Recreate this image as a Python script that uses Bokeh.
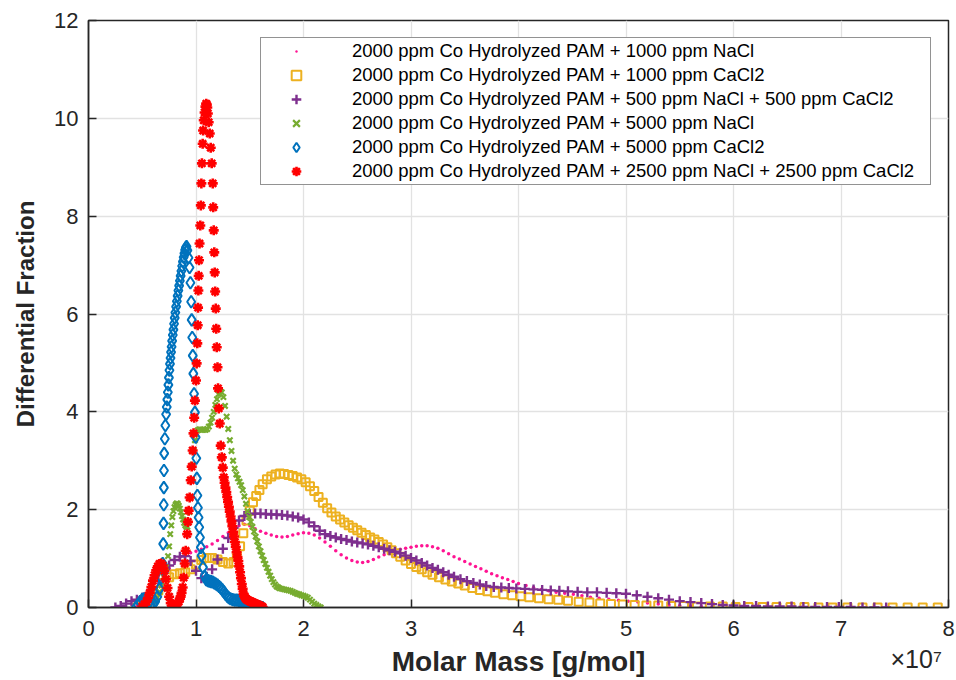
from bokeh.plotting import figure
from bokeh.models import Range1d, Legend, LegendItem, FixedTicker, LinearAxis
from bokeh.embed import file_html
from bokeh.resources import INLINE

# ---------------- data (molar mass in units of 1e7 g/mol) ----------------
x_ticks = [0, 1, 2, 3, 4, 5, 6, 7, 8]
y_ticks = [0, 2, 4, 6, 8, 10, 12]
x_scale_text = "\u00d710\u2077"

labels = [
    "2000 ppm Co Hydrolyzed PAM + 1000 ppm NaCl",
    "2000 ppm Co Hydrolyzed PAM + 1000 ppm CaCl2",
    "2000 ppm Co Hydrolyzed PAM + 500 ppm NaCl + 500 ppm CaCl2",
    "2000 ppm Co Hydrolyzed PAM + 5000 ppm NaCl",
    "2000 ppm Co Hydrolyzed PAM + 5000 ppm CaCl2",
    "2000 ppm Co Hydrolyzed PAM + 2500 ppm NaCl + 2500 ppm CaCl2",
]

nacl1000_x = [
    0.45, 0.50, 0.55, 0.60, 0.65, 0.70, 0.75, 0.80, 0.85, 0.90,
    0.95, 1.00, 1.05, 1.10, 1.15, 1.20, 1.25, 1.30, 1.35, 1.40,
    1.45, 1.50, 1.55, 1.60, 1.65, 1.70, 1.75, 1.80, 1.85, 1.90,
    1.95, 2.00, 2.05, 2.10, 2.15, 2.20, 2.25, 2.30, 2.35, 2.40,
    2.45, 2.50, 2.55, 2.60, 2.65, 2.70, 2.75, 2.80, 2.85, 2.90,
    2.95, 3.00, 3.05, 3.10, 3.15, 3.20, 3.25, 3.30, 3.35, 3.40,
    3.45, 3.50, 3.55, 3.60, 3.65, 3.70, 3.75, 3.80, 3.85, 3.90,
    3.95, 4.00, 4.07, 4.14, 4.21, 4.28, 4.35, 4.43, 4.51, 4.59,
    4.67, 4.75, 4.84, 4.93, 5.02, 5.11, 5.20, 5.30, 5.40, 5.50,
    5.60, 5.70, 5.80]
nacl1000_y = [
    0.02, 0.08, 0.18, 0.30, 0.45, 0.62, 0.80, 0.93, 1.02, 1.08,
    1.12, 1.15, 1.19, 1.24, 1.30, 1.37, 1.45, 1.53, 1.61, 1.67,
    1.70, 1.67, 1.61, 1.56, 1.52, 1.48, 1.45, 1.44, 1.45, 1.48,
    1.51, 1.53, 1.52, 1.48, 1.42, 1.34, 1.25, 1.16, 1.08, 1.01,
    0.96, 0.93, 0.92, 0.94, 0.98, 1.03, 1.08, 1.12, 1.16, 1.19,
    1.21, 1.23, 1.25, 1.26, 1.26, 1.24, 1.21, 1.16, 1.10, 1.04,
    0.99, 0.94, 0.89, 0.84, 0.79, 0.74, 0.69, 0.65, 0.61, 0.57,
    0.53, 0.49, 0.45, 0.41, 0.37, 0.34, 0.31, 0.29, 0.27, 0.24,
    0.21, 0.19, 0.17, 0.15, 0.13, 0.11, 0.09, 0.07, 0.05, 0.04,
    0.03, 0.02, 0.01]

cacl1000_x = [
    0.45, 0.50, 0.55, 0.60, 0.65, 0.70, 0.75, 0.80, 0.85, 0.90,
    0.95, 1.00, 1.05, 1.10, 1.15, 1.20, 1.25, 1.30, 1.35, 1.38,
    1.41, 1.44, 1.47, 1.50, 1.53, 1.56, 1.59, 1.62, 1.66, 1.70,
    1.74, 1.78, 1.82, 1.86, 1.90, 1.94, 1.98, 2.02, 2.06, 2.10,
    2.14, 2.18, 2.22, 2.26, 2.30, 2.34, 2.38, 2.42, 2.46, 2.50,
    2.54, 2.58, 2.62, 2.66, 2.70, 2.74, 2.78, 2.82, 2.86, 2.90,
    2.95, 3.00, 3.05, 3.10, 3.15, 3.20, 3.26, 3.32, 3.38, 3.44,
    3.50, 3.57, 3.64, 3.71, 3.78, 3.86, 3.94, 4.02, 4.10, 4.19,
    4.28, 4.37, 4.46, 4.56, 4.66, 4.76, 4.86, 4.97, 5.08, 5.19,
    5.30, 5.42, 5.54, 5.66, 5.78, 5.90, 6.02, 6.14, 6.27, 6.40,
    6.53, 6.66, 6.79, 6.92, 7.06, 7.20, 7.34, 7.48, 7.62, 7.76,
    7.90]
cacl1000_y = [
    0.00, 0.05, 0.12, 0.22, 0.35, 0.50, 0.62, 0.68, 0.70, 0.72,
    0.78, 0.88, 0.97, 1.01, 1.01, 0.98, 0.93, 0.90, 0.93, 1.05,
    1.25, 1.52, 1.78, 1.98, 2.15, 2.28, 2.40, 2.52, 2.62, 2.68,
    2.72, 2.74, 2.73, 2.71, 2.69, 2.66, 2.62, 2.56, 2.48, 2.38,
    2.26, 2.14, 2.03, 1.94, 1.86, 1.80, 1.74, 1.68, 1.63, 1.58,
    1.53, 1.48, 1.43, 1.39, 1.34, 1.29, 1.23, 1.17, 1.11, 1.04,
    0.96, 0.89, 0.83, 0.78, 0.72, 0.67, 0.62, 0.57, 0.53, 0.49,
    0.45, 0.40, 0.36, 0.33, 0.30, 0.27, 0.25, 0.23, 0.21, 0.19,
    0.17, 0.16, 0.14, 0.12, 0.10, 0.08, 0.07, 0.06, 0.05, 0.04,
    0.04, 0.03, 0.03, 0.02, 0.02, 0.02, 0.01, 0.01, 0.01, 0.01,
    0.01, 0.01, 0.00, 0.00, 0.00, 0.00, 0.00, 0.00, 0.00, 0.00,
    0.00]

mix500_x = [
    0.25, 0.30, 0.35, 0.40, 0.45, 0.50, 0.55, 0.60, 0.65, 0.70,
    0.75, 0.80, 0.85, 0.90, 0.95, 1.00, 1.05, 1.10, 1.15, 1.20,
    1.25, 1.30, 1.35, 1.40, 1.45, 1.50, 1.55, 1.60, 1.65, 1.70,
    1.75, 1.80, 1.85, 1.90, 1.95, 2.00, 2.05, 2.10, 2.15, 2.20,
    2.25, 2.30, 2.35, 2.40, 2.45, 2.50, 2.55, 2.60, 2.65, 2.70,
    2.75, 2.80, 2.85, 2.90, 2.95, 3.00, 3.05, 3.10, 3.15, 3.20,
    3.25, 3.30, 3.35, 3.40, 3.46, 3.52, 3.58, 3.64, 3.70, 3.77,
    3.84, 3.91, 3.98, 4.06, 4.14, 4.22, 4.30, 4.38, 4.46, 4.55,
    4.64, 4.73, 4.82, 4.91, 5.00, 5.10, 5.20, 5.30, 5.40, 5.50,
    5.60, 5.70, 5.80, 5.90, 6.00, 6.10, 6.21, 6.32, 6.43, 6.54,
    6.65, 6.76, 6.87, 6.98, 7.09, 7.20, 7.31, 7.42]
mix500_y = [
    0.00, 0.03, 0.08, 0.13, 0.16, 0.20, 0.28, 0.40, 0.55, 0.72,
    0.86, 0.97, 1.04, 1.05, 0.95, 0.75, 0.60, 0.63, 0.78, 0.98,
    1.20, 1.42, 1.63, 1.78, 1.87, 1.91, 1.92, 1.92, 1.91, 1.90,
    1.90, 1.89, 1.88, 1.86, 1.84, 1.80, 1.74, 1.66, 1.57, 1.50,
    1.46, 1.43, 1.40, 1.38, 1.35, 1.33, 1.31, 1.29, 1.26, 1.23,
    1.20, 1.17, 1.14, 1.11, 1.06, 1.01, 0.96, 0.91, 0.86, 0.81,
    0.77, 0.72, 0.67, 0.63, 0.58, 0.54, 0.50, 0.47, 0.44, 0.42,
    0.41, 0.40, 0.39, 0.38, 0.37, 0.36, 0.35, 0.34, 0.33, 0.32,
    0.31, 0.31, 0.30, 0.29, 0.28, 0.25, 0.22, 0.19, 0.16, 0.13,
    0.11, 0.09, 0.07, 0.05, 0.04, 0.03, 0.03, 0.02, 0.02, 0.02,
    0.01, 0.01, 0.01, 0.01, 0.01, 0.00, 0.00, 0.00]

nacl5000_x = [
    0.62, 0.64, 0.66, 0.68, 0.70, 0.72, 0.74, 0.75, 0.76, 0.77,
    0.78, 0.79, 0.80, 0.81, 0.82, 0.83, 0.84, 0.85, 0.86, 0.87,
    0.88, 0.89, 0.90, 0.91, 0.92, 0.93, 0.94, 0.95, 0.96, 0.97,
    0.98, 0.99, 1.00, 1.015, 1.03, 1.045, 1.06, 1.075, 1.09, 1.105,
    1.12, 1.135, 1.15, 1.165, 1.18, 1.195, 1.21, 1.225, 1.24, 1.255,
    1.27, 1.285, 1.30, 1.315, 1.33, 1.345, 1.36, 1.375, 1.39, 1.405,
    1.42, 1.435, 1.45, 1.465, 1.48, 1.495, 1.51, 1.525, 1.54, 1.555,
    1.57, 1.585, 1.60, 1.615, 1.63, 1.645, 1.66, 1.675, 1.69, 1.705,
    1.72, 1.735, 1.75, 1.765, 1.78, 1.80, 1.82, 1.84, 1.86, 1.88,
    1.90, 1.92, 1.94, 1.96, 1.98, 2.00, 2.02, 2.04, 2.06, 2.08,
    2.10, 2.12, 2.14, 2.16]
nacl5000_y = [
    0.10, 0.20, 0.32, 0.45, 0.62, 0.82, 1.05, 1.25, 1.50, 1.68,
    1.85, 1.97, 2.05, 2.10, 2.13, 2.12, 2.08, 2.02, 1.95, 1.87,
    1.80, 1.73, 1.68, 1.65, 1.65, 1.75, 1.95, 2.25, 2.60, 2.92,
    3.20, 3.42, 3.55, 3.62, 3.64, 3.64, 3.63, 3.63, 3.63, 3.65,
    3.70, 3.78, 3.88, 4.00, 4.14, 4.26, 4.36, 4.42, 4.40, 4.30,
    4.12, 3.90, 3.65, 3.42, 3.20, 3.00, 2.84, 2.72, 2.64, 2.57,
    2.50, 2.40, 2.27, 2.12, 1.97, 1.85, 1.75, 1.65, 1.55, 1.45,
    1.35, 1.25, 1.15, 1.06, 0.97, 0.89, 0.81, 0.73, 0.65, 0.58,
    0.52, 0.47, 0.43, 0.41, 0.39, 0.38, 0.37, 0.36, 0.35, 0.34,
    0.32, 0.30, 0.28, 0.27, 0.25, 0.24, 0.22, 0.20, 0.16, 0.12,
    0.08, 0.05, 0.02, 0.00]

cacl5000_x = [
    0.440, 0.460, 0.480, 0.500, 0.520, 0.540, 0.560, 0.580, 0.600, 0.620,
    0.640, 0.660, 0.675, 0.690, 0.695, 0.698, 0.700, 0.701, 0.702, 0.704,
    0.710, 0.715, 0.722, 0.728, 0.733, 0.738, 0.743, 0.748, 0.753, 0.758,
    0.763, 0.768, 0.773, 0.778, 0.784, 0.790, 0.796, 0.802, 0.808, 0.815,
    0.822, 0.829, 0.836, 0.843, 0.850, 0.857, 0.864, 0.871, 0.878, 0.885,
    0.892, 0.899, 0.906, 0.912, 0.920, 0.930, 0.940, 0.948, 0.955, 0.960,
    0.965, 0.970, 0.975, 0.982, 0.990, 0.997, 1.003, 1.008, 1.013, 1.018,
    1.024, 1.030, 1.037, 1.045, 1.052, 1.065, 1.080, 1.095, 1.110, 1.125,
    1.140, 1.155, 1.170, 1.185, 1.200, 1.215, 1.230, 1.245, 1.260, 1.275,
    1.290, 1.305, 1.320, 1.340, 1.360, 1.380, 1.400, 1.420, 1.440, 1.460,
    1.480, 1.500, 1.520, 1.540, 1.560, 1.580, 1.600, 1.620]
cacl5000_y = [
    0.00, 0.05, 0.12, 0.17, 0.18, 0.14, 0.09, 0.06, 0.07, 0.12,
    0.22, 0.38, 0.60, 0.90, 1.30, 1.72, 2.10, 2.45, 2.80, 3.15,
    3.45, 3.72, 3.95, 4.10, 4.25, 4.40, 4.55, 4.70, 4.85, 4.98,
    5.10, 5.22, 5.33, 5.45, 5.57, 5.68, 5.80, 5.92, 6.03, 6.15,
    6.26, 6.37, 6.48, 6.58, 6.68, 6.78, 6.88, 6.98, 7.07, 7.16,
    7.24, 7.31, 7.36, 7.38, 7.30, 7.15, 6.95, 6.64, 6.25, 5.88,
    5.52, 5.15, 4.78, 4.37, 3.99, 3.48, 3.05, 2.64, 2.29, 2.04,
    1.84, 1.64, 1.43, 1.23, 1.06, 0.82, 0.64, 0.57, 0.55, 0.54,
    0.53, 0.52, 0.50, 0.48, 0.46, 0.43, 0.40, 0.36, 0.32, 0.27,
    0.23, 0.20, 0.18, 0.16, 0.15, 0.15, 0.14, 0.14, 0.13, 0.12,
    0.10, 0.08, 0.06, 0.04, 0.03, 0.02, 0.01, 0.00]

mix2500_x = [
    0.500, 0.520, 0.540, 0.555, 0.570, 0.585, 0.600, 0.615, 0.630, 0.645,
    0.660, 0.675, 0.690, 0.705, 0.720, 0.735, 0.750, 0.765, 0.780, 0.795,
    0.811, 0.825, 0.839, 0.850, 0.857, 0.866, 0.876, 0.885, 0.895, 0.904,
    0.918, 0.925, 0.932, 0.941, 0.951, 0.960, 0.969, 0.977, 0.983, 0.990,
    1.000, 1.006, 1.012, 1.016, 1.019, 1.022, 1.025, 1.028, 1.033, 1.040,
    1.045, 1.050, 1.055, 1.062, 1.066, 1.072, 1.080, 1.088, 1.095, 1.100,
    1.105, 1.110, 1.118, 1.128, 1.137, 1.146, 1.156, 1.160, 1.165, 1.170,
    1.174, 1.178, 1.184, 1.188, 1.193, 1.200, 1.205, 1.212, 1.221, 1.230,
    1.240, 1.249, 1.258, 1.266, 1.274, 1.282, 1.290, 1.298, 1.306, 1.314,
    1.322, 1.330, 1.338, 1.346, 1.354, 1.362, 1.370, 1.378, 1.386, 1.394,
    1.402, 1.410, 1.418, 1.426, 1.434, 1.442, 1.450, 1.460, 1.470, 1.480,
    1.490, 1.500, 1.510, 1.520, 1.530, 1.540, 1.550, 1.560, 1.570, 1.580,
    1.590, 1.600, 1.610, 1.620]
mix2500_y = [
    0.02, 0.06, 0.12, 0.20, 0.30, 0.42, 0.55, 0.66, 0.76, 0.84,
    0.89, 0.90, 0.86, 0.75, 0.58, 0.40, 0.22, 0.09, 0.02, 0.00,
    0.03, 0.07, 0.12, 0.18, 0.22, 0.30, 0.41, 0.61, 0.90, 1.16,
    1.50, 1.75, 1.98, 2.25, 2.60, 2.88, 3.21, 3.56, 3.88, 4.23,
    4.64, 4.99, 5.40, 5.77, 6.13, 6.48, 6.78, 7.10, 7.44, 7.81,
    8.22, 8.67, 9.08, 9.48, 9.75, 9.96, 10.12, 10.24, 10.30, 10.28,
    10.22, 10.10, 9.92, 9.69, 9.40, 9.08, 8.67, 8.18, 7.71, 7.26,
    6.85, 6.46, 6.11, 5.70, 5.32, 4.91, 4.48, 4.07, 3.76, 3.31,
    3.07, 2.86, 2.66, 2.55, 2.45, 2.36, 2.26, 2.16, 2.06, 1.96,
    1.86, 1.76, 1.66, 1.55, 1.45, 1.34, 1.24, 1.13, 1.03, 0.95,
    0.84, 0.72, 0.60, 0.48, 0.38, 0.28, 0.23, 0.19, 0.17, 0.15,
    0.14, 0.13, 0.12, 0.11, 0.10, 0.09, 0.08, 0.07, 0.06, 0.05,
    0.04, 0.03, 0.02, 0.01]

# ---------------- styling ----------------
FONT = "Liberation Sans"
INK = "#262626"
PINK = "#FF1493"
YELLOW = "#EDB120"
PURPLE = "#7E2F8E"
GREEN = "#77AC30"
BLUE = "#0072BD"
RED = "#FF0000"

p = figure(width=956, height=680, output_backend="svg", toolbar_location=None,
           x_range=Range1d(0, 8), y_range=Range1d(0, 12),
           min_border_left=88, min_border_right=8, min_border_top=20,
           min_border_bottom=73)
p.background_fill_color = "white"
p.border_fill_color = "white"
p.outline_line_color = INK
p.outline_line_width = 1.5

p.xaxis.ticker = FixedTicker(ticks=x_ticks)
p.yaxis.ticker = FixedTicker(ticks=y_ticks)
for ax in (p.xaxis[0], p.yaxis[0]):
    ax.axis_line_color = INK
    ax.axis_line_width = 1.5
    ax.major_tick_line_color = INK
    ax.major_tick_line_width = 1.5
    ax.major_tick_in = 8
    ax.major_tick_out = 0
    ax.minor_tick_line_color = None
    ax.major_label_text_font = FONT
    ax.major_label_text_font_size = "22px"
    ax.major_label_text_color = INK
    ax.axis_label_text_font = FONT
    ax.axis_label_text_font_style = "bold"
    ax.axis_label_text_color = INK
p.yaxis.axis_label = "Differential Fraction"
p.yaxis.axis_label_text_font_size = "24px"
p.xaxis.major_label_standoff = 13
p.yaxis.major_label_standoff = 10
p.yaxis.axis_label_standoff = 12

# second, label-only axis below the first: carries the x10^7 factor and the title
scale_axis = LinearAxis(ticker=FixedTicker(ticks=[7.70]),
                        major_label_overrides={7.70: x_scale_text},
                        axis_label="Molar Mass [g/mol]")
scale_axis.axis_line_color = None
scale_axis.major_tick_line_color = None
scale_axis.minor_tick_line_color = None
scale_axis.major_label_standoff = 0
scale_axis.major_label_text_font = FONT
scale_axis.major_label_text_font_size = "25px"
scale_axis.major_label_text_color = INK
scale_axis.axis_label_text_font = FONT
scale_axis.axis_label_text_font_style = "bold"
scale_axis.axis_label_text_font_size = "28px"
scale_axis.axis_label_text_color = INK
scale_axis.axis_label_standoff = -30
p.add_layout(scale_axis, "below")

p.xgrid.grid_line_color = "#e2e2e2"
p.ygrid.grid_line_color = "#e2e2e2"
p.xgrid.grid_line_width = 1.3
p.ygrid.grid_line_width = 1.3

r1 = p.scatter(nacl1000_x, nacl1000_y, marker="dot", size=14,
               line_color=PINK, fill_color=PINK, line_width=1)
r2 = p.scatter(cacl1000_x, cacl1000_y, marker="square", size=8,
               line_color=YELLOW, fill_color=None, line_width=2)
r3 = p.scatter(mix500_x, mix500_y, marker="cross", size=10,
               line_color=PURPLE, line_width=2.4)
r4 = p.scatter(nacl5000_x, nacl5000_y, marker="x", size=7.5,
               line_color=GREEN, line_width=2.2)
r5 = p.scatter(cacl5000_x, cacl5000_y, marker="diamond", size=12,
               line_color=BLUE, fill_color=None, line_width=2)
r6 = p.scatter(mix2500_x, mix2500_y, marker="asterisk", size=10,
               line_color=RED, line_width=2.6)

legend = Legend(
    items=[LegendItem(label=lab, renderers=[r])
           for lab, r in zip(labels, [r1, r2, r3, r4, r5, r6])],
    location="top_right", margin=17, padding=1, spacing=0,
    glyph_height=24, glyph_width=68, label_height=24, label_width=577,
    label_standoff=22,
    label_text_font=FONT, label_text_font_size="18.5px", label_text_color="#000000",
    border_line_color=INK, border_line_width=1.2,
    background_fill_color="white", background_fill_alpha=1.0)
p.add_layout(legend)

open("out.html", "w").write(file_html(p, INLINE))
